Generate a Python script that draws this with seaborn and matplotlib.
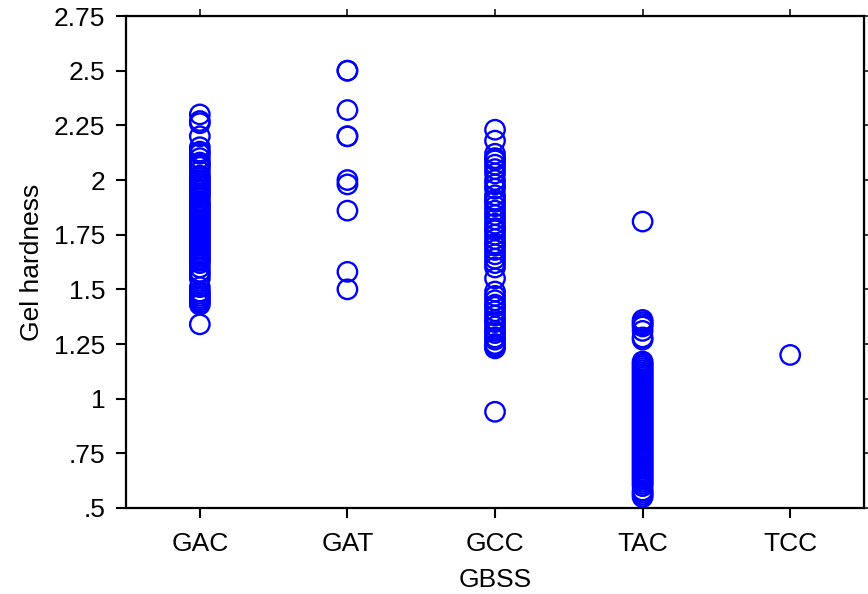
import matplotlib
matplotlib.use("Agg")
import matplotlib.pyplot as plt
import seaborn as sns
import pandas as pd

categories = ["GAC", "GAT", "GCC", "TAC", "TCC"]

gac = [2.30, 2.27, 2.26, 2.20, 2.15, 2.13, 2.12, 2.10, 2.08, 2.07, 2.06, 2.04,
       2.02, 2.01, 2.00, 1.99, 1.98, 1.97, 1.96, 1.95, 1.94, 1.93, 1.92, 1.90,
       1.89, 1.88, 1.87, 1.86, 1.85, 1.84, 1.83, 1.82, 1.81, 1.80, 1.79, 1.78,
       1.77, 1.76, 1.75, 1.74, 1.73, 1.72, 1.71, 1.70, 1.69, 1.68, 1.67, 1.66,
       1.65, 1.64, 1.63, 1.62, 1.60, 1.58, 1.57, 1.55, 1.51, 1.49, 1.48, 1.47,
       1.46, 1.45, 1.44, 1.43, 1.34]
gat = [2.50, 2.50, 2.32, 2.20, 2.20, 2.00, 1.98, 1.86, 1.58, 1.50]
gcc = [2.23, 2.18, 2.12, 2.10, 2.09, 2.07, 2.05, 2.03, 2.00, 1.98, 1.96, 1.93,
       1.91, 1.90, 1.88, 1.86, 1.84, 1.82, 1.80, 1.78, 1.77, 1.75, 1.73, 1.71,
       1.70, 1.68, 1.66, 1.64, 1.62, 1.60, 1.55, 1.49, 1.47, 1.45, 1.43, 1.42,
       1.40, 1.38, 1.36, 1.35, 1.33, 1.31, 1.30, 1.28, 1.27, 1.25, 1.24, 1.23,
       0.94]
tac = [1.81, 1.36, 1.35, 1.34, 1.33, 1.31, 1.28, 1.27, 1.17, 1.16, 1.15, 1.14,
       1.13, 1.12, 1.11, 1.10, 1.09, 1.08, 1.07, 1.06, 1.05, 1.04, 1.03, 1.02,
       1.01, 1.00, 0.99, 0.98, 0.97, 0.96, 0.95, 0.94, 0.93, 0.92, 0.91, 0.90,
       0.89, 0.88, 0.87, 0.86, 0.85, 0.84, 0.83, 0.82, 0.81, 0.80, 0.79, 0.78,
       0.77, 0.76, 0.75, 0.74, 0.73, 0.72, 0.71, 0.70, 0.69, 0.68, 0.67, 0.66,
       0.65, 0.64, 0.63, 0.62, 0.61, 0.60, 0.58, 0.57, 0.56, 0.55]
tcc = [1.20]

y_ticks = [0.5, 0.75, 1.0, 1.25, 1.5, 1.75, 2.0, 2.25, 2.5, 2.75]
y_tick_labels = [".5", ".75", "1", "1.25", "1.5", "1.75", "2", "2.25", "2.5", "2.75"]

series = [gac, gat, gcc, tac, tcc]
df = pd.DataFrame({
    "GBSS": [c for c, vals in zip(categories, series) for _ in vals],
    "Gel hardness": [v for vals in series for v in vals],
})

sns.set_style("white")
plt.rcParams["font.family"] = ["Liberation Sans", "DejaVu Sans"]

fig = plt.figure(figsize=(8.68, 5.94), dpi=100)
ax = fig.add_axes([0.1452, 0.1448, 0.8502, 0.8282])

sns.stripplot(data=df, x="GBSS", y="Gel hardness", order=categories,
              jitter=False, ax=ax, size=14, marker="o", color="blue",
              linewidth=1.7)
for coll in ax.collections:
    coll.set_facecolor("none")
    coll.set_edgecolor("blue")
    coll.set_linewidth(1.7)

ax.set_xlim(-0.5, 4.5)
ax.set_ylim(0.5, 2.75)
ax.set_yticks(y_ticks)
ax.set_yticklabels(y_tick_labels)
ax.tick_params(axis="both", direction="out", length=7, width=1.5,
               labelsize=19, colors="black", left=True, bottom=True)
ax.tick_params(axis="x", pad=10)
ax.tick_params(axis="y", pad=8)
for sp in ax.spines.values():
    sp.set_visible(True)
    sp.set_linewidth(1.6)
    sp.set_color("black")

top = ax.secondary_xaxis("top")
top.set_xticks(range(len(categories)))
top.set_xticklabels([])
top.tick_params(direction="out", length=5, width=1.3)
right = ax.secondary_yaxis("right")
right.set_yticks(y_ticks)
right.set_yticklabels([])
right.tick_params(direction="out", length=5, width=1.3)

ax.set_xlabel("GBSS", fontsize=19, labelpad=9, color="black")
ax.set_ylabel("Gel hardness", fontsize=19, labelpad=7, color="black")

fig.savefig("out.png", dpi=100)
